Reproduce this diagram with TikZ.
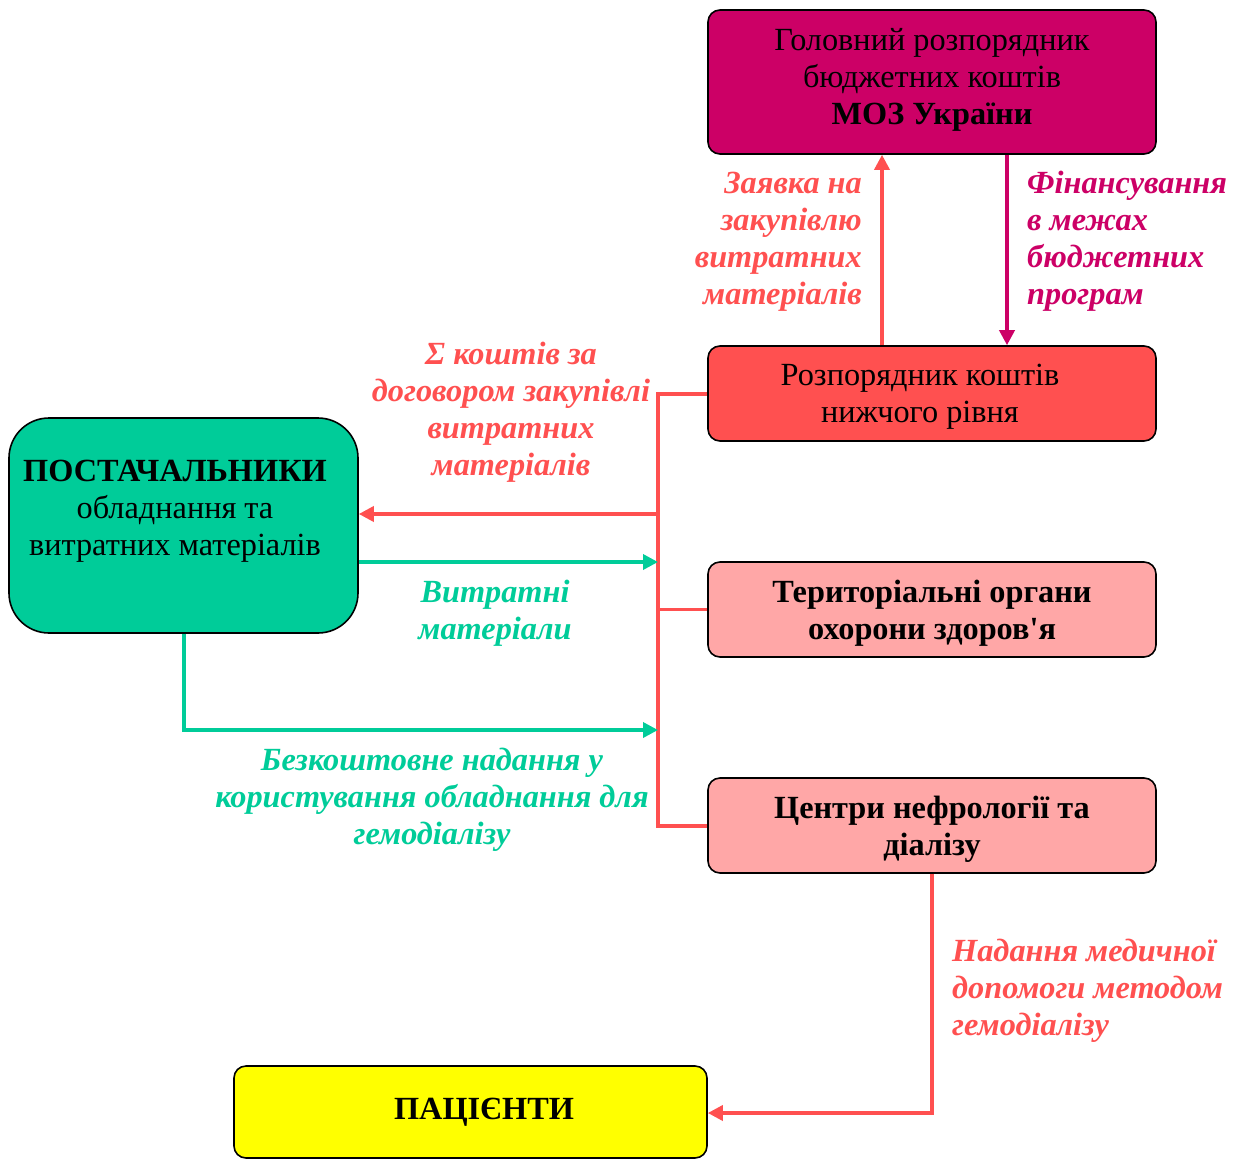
\documentclass[tikz,border=0pt]{standalone}
\usepackage{fontspec}
\setmainfont{Liberation Serif}
\usetikzlibrary{arrows.meta}
\definecolor{cmag}{HTML}{CC0066}
\definecolor{cred}{HTML}{FF5050}
\definecolor{cpink}{HTML}{FFA7A7}
\definecolor{cgreen}{HTML}{00CC99}
\definecolor{cyel}{HTML}{FFFF00}
\begin{document}
\begin{tikzpicture}[x=1pt,y=-1pt,
  box/.style={draw=black, line width=1.6pt, rounded corners=12pt, inner sep=0pt},
  txt/.style={align=center, font=\fontsize{32.3}{37}\selectfont, inner sep=0pt},
  lbl/.style={font=\fontsize{32.3}{37}\selectfont\bfseries\itshape, inner sep=0pt},
  conn/.style={line width=3.5pt},
  tip/.style={-{Triangle[length=15pt,width=15pt]}}
]
\useasboundingbox (0,0) rectangle (1234,1159);
% boxes
\node[box, fill=cmag, minimum width=448pt, minimum height=144pt] (moz) at (932,82) {};
\node[txt] (moztxt) at (932,80)
  {Головний розпорядник\\бюджетних коштів\\\textbf{МОЗ України}};
\node[box, fill=cred, minimum width=448pt, minimum height=95pt] (rozp) at (932,393.5) {};
\node[txt] (rozptxt) at (920,397) {Розпорядник коштів\\нижчого рівня};
\node[box, fill=cpink, minimum width=448pt, minimum height=95pt] (teryt) at (932,609.5) {};
\node[txt, font=\fontsize{32.3}{37}\selectfont\bfseries] (teryttxt) at (932,613.5)
  {Територіальні органи\\охорони здоров\textquotesingle я};
\node[box, fill=cpink, minimum width=448pt, minimum height=95pt] (tsentr) at (932,825.5) {};
\node[txt, font=\fontsize{32.3}{37}\selectfont\bfseries] (tsentrtxt) at (932,829.5)
  {Центри нефрології та\\діалізу};
\node[box, fill=cgreen, rounded corners=40pt, minimum width=349pt, minimum height=215pt] (post) at (183.5,525.5) {};
\node[txt] (posttxt) at (175,511)
  {\textbf{ПОСТАЧАЛЬНИКИ}\\обладнання та\\витратних матеріалів};
\node[box, fill=cyel, minimum width=473pt, minimum height=92pt] (pat) at (470.5,1112) {};
\node[txt, font=\fontsize{32.3}{37}\selectfont\bfseries] (pattxt) at (484,1112) {ПАЦІЄНТИ};
% coordinates
\coordinate (bustop) at (658,394);
\coordinate (busbot) at (658,826);
\coordinate (busred) at (658,514);
\coordinate (busg1) at (658,562);
\coordinate (busg2) at (658,730);
\coordinate (patcorner) at (932,1113);
% connectors
\draw[conn, cred, line join=miter] (rozp.west |- bustop) -- (bustop) -- (busbot) -- (tsentr.west |- busbot);
\draw[conn, cred] (teryt.west) -- (teryt.west -| bustop);
\draw[conn, cred, tip] (busred) -- (busred -| post.east);
\draw[conn, cgreen, tip] (busg1 -| post.east) -- (busg1);
\draw[conn, cgreen, tip, line join=miter] (post.south -| 184,0) -- (184,730) -- (busg2);
\draw[conn, cred, tip] (rozp.north -| 882,0) -- (moz.south -| 882,0);
\draw[conn, cmag, tip] (moz.south -| 1007,0) -- (rozp.north -| 1007,0);
\draw[conn, cred, tip, line join=miter] (tsentr.south -| patcorner) -- (patcorner) -- (patcorner -| pat.east);
% labels
\node[lbl, cred, align=right, anchor=east] (l1) at (862,241.5)
  {Заявка на\\закупівлю\\витратних\\матеріалів};
\node[lbl, cmag, align=left, anchor=west] (l2) at (1027,241.5)
  {Фінансування\\в межах\\бюджетних\\програм};
\node[lbl, cred, align=center] (l3) at (511,412.5)
  {Σ коштів за\\договором закупівлі\\витратних\\матеріалів};
\node[lbl, cgreen, align=center] (l4) at (495,613.5)
  {Витратні\\матеріали};
\node[lbl, cgreen, align=center] (l5) at (432,799.5)
  {Безкоштовне надання у\\користування обладнання для\\гемодіалізу};
\node[lbl, cred, align=left, anchor=west] (l6) at (952,991)
  {Надання медичної\\допомоги методом\\гемодіалізу};
\end{tikzpicture}
\end{document}
